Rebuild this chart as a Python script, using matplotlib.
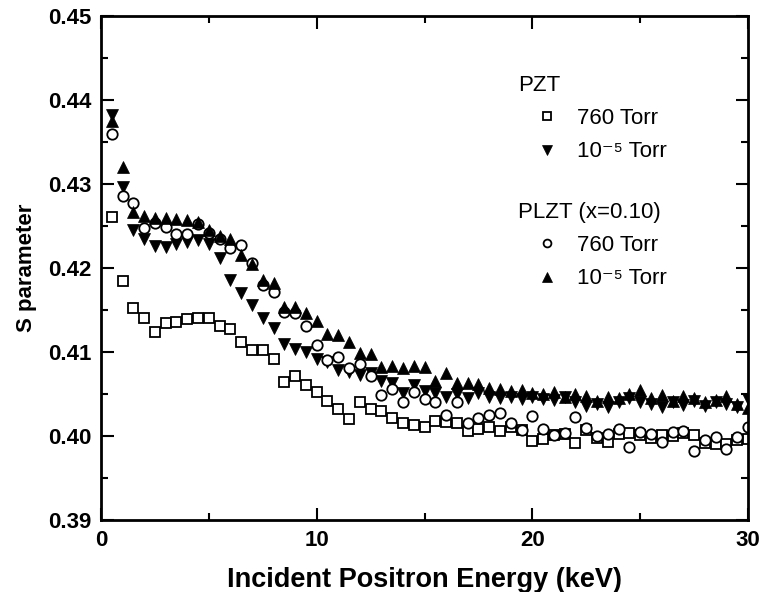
import numpy as np
import matplotlib.pyplot as plt
from matplotlib.ticker import MultipleLocator, FormatStrFormatter

# incident positron energy (keV), same grid for all four series
energy = [0.5, 1.0, 1.5, 2.0, 2.5, 3.0, 3.5, 4.0, 4.5, 5.0,
          5.5, 6.0, 6.5, 7.0, 7.5, 8.0, 8.5, 9.0, 9.5, 10.0,
          10.5, 11.0, 11.5, 12.0, 12.5, 13.0, 13.5, 14.0, 14.5, 15.0,
          15.5, 16.0, 16.5, 17.0, 17.5, 18.0, 18.5, 19.0, 19.5, 20.0,
          20.5, 21.0, 21.5, 22.0, 22.5, 23.0, 23.5, 24.0, 24.5, 25.0,
          25.5, 26.0, 26.5, 27.0, 27.5, 28.0, 28.5, 29.0, 29.5, 30.0]

# PZT, 760 Torr (open squares)
pzt_760 = [0.4261, 0.4184, 0.4152, 0.4140, 0.4124, 0.4135, 0.4136, 0.4139, 0.4140, 0.4141,
           0.4131, 0.4127, 0.4112, 0.4102, 0.4102, 0.4092, 0.4064, 0.4071, 0.4061, 0.4052,
           0.4042, 0.4032, 0.4020, 0.4041, 0.4032, 0.4030, 0.4021, 0.4015, 0.4013, 0.4011,
           0.4018, 0.4017, 0.4016, 0.4006, 0.4008, 0.4011, 0.4006, 0.4011, 0.4007, 0.3994,
           0.3997, 0.4001, 0.4002, 0.3992, 0.4007, 0.3998, 0.3993, 0.4002, 0.4004, 0.4001,
           0.3998, 0.4001, 0.4000, 0.4003, 0.4001, 0.3992, 0.3990, 0.3991, 0.3995, 0.3997]

# PZT, 1e-5 Torr (filled down triangles)
pzt_vac = [0.4382, 0.4296, 0.4245, 0.4235, 0.4226, 0.4225, 0.4229, 0.4231, 0.4233, 0.4229,
           0.4212, 0.4186, 0.4170, 0.4156, 0.4141, 0.4128, 0.4110, 0.4104, 0.4100, 0.4092,
           0.4088, 0.4079, 0.4076, 0.4073, 0.4075, 0.4065, 0.4063, 0.4051, 0.4061, 0.4053,
           0.4051, 0.4047, 0.4050, 0.4045, 0.4051, 0.4047, 0.4045, 0.4047, 0.4044, 0.4046,
           0.4044, 0.4043, 0.4046, 0.4040, 0.4036, 0.4038, 0.4035, 0.4040, 0.4045, 0.4041,
           0.4038, 0.4035, 0.4040, 0.4037, 0.4042, 0.4036, 0.4041, 0.4038, 0.4035, 0.4044]

# PLZT (x=0.10), 760 Torr (open circles)
plzt_760 = [0.4359, 0.4286, 0.4277, 0.4248, 0.4254, 0.4249, 0.4240, 0.4241, 0.4252, 0.4242,
            0.4235, 0.4224, 0.4227, 0.4206, 0.4180, 0.4171, 0.4148, 0.4146, 0.4131, 0.4108,
            0.4090, 0.4094, 0.4081, 0.4086, 0.4071, 0.4049, 0.4056, 0.4040, 0.4052, 0.4044,
            0.4040, 0.4025, 0.4040, 0.4016, 0.4021, 0.4025, 0.4027, 0.4016, 0.4007, 0.4024,
            0.4008, 0.4001, 0.4004, 0.4023, 0.4009, 0.4000, 0.4002, 0.4008, 0.3987, 0.4005,
            0.4002, 0.3993, 0.4005, 0.4006, 0.3982, 0.3995, 0.3999, 0.3985, 0.3999, 0.4011]

# PLZT (x=0.10), 1e-5 Torr (filled up triangles)
plzt_vac = [0.4375, 0.4320, 0.4267, 0.4262, 0.4259, 0.4259, 0.4258, 0.4257, 0.4255, 0.4245,
            0.4238, 0.4234, 0.4215, 0.4205, 0.4186, 0.4182, 0.4153, 0.4153, 0.4147, 0.4137,
            0.4122, 0.4120, 0.4112, 0.4099, 0.4098, 0.4082, 0.4083, 0.4081, 0.4083, 0.4082,
            0.4066, 0.4075, 0.4063, 0.4063, 0.4062, 0.4057, 0.4056, 0.4053, 0.4055, 0.4051,
            0.4050, 0.4052, 0.4047, 0.4050, 0.4048, 0.4042, 0.4047, 0.4045, 0.4050, 0.4055,
            0.4045, 0.4049, 0.4042, 0.4048, 0.4045, 0.4041, 0.4043, 0.4048, 0.4038, 0.4033]

bold_font = ['Liberation Sans', 'DejaVu Sans']
plain_font = ['Liberation Sans', 'DejaVu Sans']

fig = plt.figure(figsize=(7.62, 5.92), dpi=100)
ax = fig.add_axes([101 / 762, 1 - 520 / 592, 647 / 762, 504 / 592])

sq, = ax.plot(energy, pzt_760, ls='none', marker='s', ms=7, mfc='white',
              mec='black', mew=1.3)
dn, = ax.plot(energy, pzt_vac, ls='none', marker='v', ms=9, mfc='black',
              mec='black', mew=0.5)
ci, = ax.plot(energy, plzt_760, ls='none', marker='o', ms=7.5, mfc='white',
              mec='black', mew=1.3)
up, = ax.plot(energy, plzt_vac, ls='none', marker='^', ms=9, mfc='black',
              mec='black', mew=0.5)

ax.set_xlim(0, 30)
ax.set_ylim(0.39, 0.45)
ax.xaxis.set_major_locator(MultipleLocator(10))
ax.xaxis.set_minor_locator(MultipleLocator(5))
ax.yaxis.set_major_locator(MultipleLocator(0.01))
ax.yaxis.set_minor_locator(MultipleLocator(0.005))
ax.yaxis.set_major_formatter(FormatStrFormatter('%.2f'))
ax.tick_params(which='both', direction='in', top=True, right=True, width=1.5)
ax.tick_params(which='major', length=9, pad=7)
ax.tick_params(which='minor', length=5)
for lab in ax.get_xticklabels() + ax.get_yticklabels():
    lab.set_fontfamily(bold_font)
    lab.set_fontweight('bold')
    lab.set_fontsize(16)
for sp in ax.spines.values():
    sp.set_linewidth(2)

ax.set_xlabel('Incident Positron Energy (keV)', family=bold_font,
              fontweight='bold', fontsize=19.5, labelpad=12)
ax.set_ylabel('S parameter', family=bold_font, fontweight='bold',
              fontsize=16, labelpad=8)

leg_kw = dict(frameon=False, loc='upper left', borderpad=0,
              title_fontsize=16, alignment='left', handlelength=2.6,
              handletextpad=0.05, labelspacing=0.55, markerscale=0.75,
              prop={'family': plain_font, 'size': 16})
leg1 = ax.legend([sq, dn], ['760 Torr', '10\u207b\u2075 Torr'], title='PZT',
                 bbox_to_anchor=(0.628, 0.905), **leg_kw)
ax.add_artist(leg1)
leg2 = ax.legend([ci, up], ['760 Torr', '10\u207b\u2075 Torr'], title='PLZT (x=0.10)',
                 bbox_to_anchor=(0.628, 0.653), **leg_kw)
for lg in (leg1, leg2):
    lg.get_title().set_fontfamily(plain_font)

fig.savefig('out.png', dpi=100)
